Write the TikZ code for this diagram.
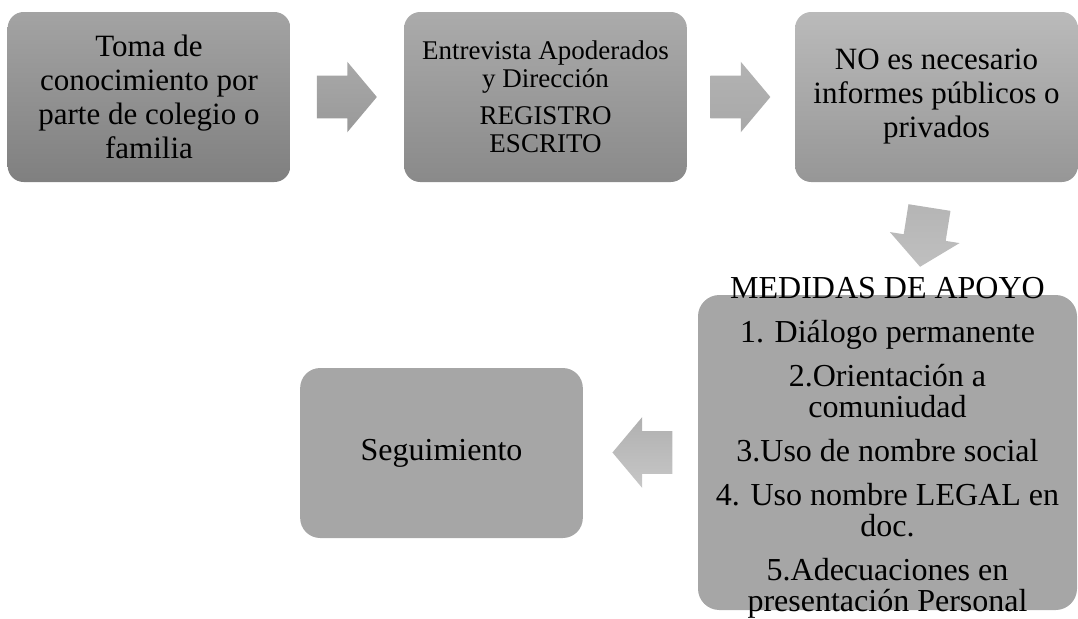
\documentclass[tikz,border=0pt]{standalone}
\usepackage{fontspec}
\setmainfont{Liberation Serif}
\usetikzlibrary{shapes.arrows,calc}

\definecolor{tomaA}{gray}{0.64}
\definecolor{tomaB}{gray}{0.50}
\definecolor{entrevA}{gray}{0.67}
\definecolor{entrevB}{gray}{0.54}
\definecolor{noesA}{gray}{0.73}
\definecolor{noesB}{gray}{0.59}
\definecolor{cajagris}{gray}{0.65}
\definecolor{flechaA}{gray}{0.66}
\definecolor{flechaB}{gray}{0.60}
\definecolor{flechaC}{gray}{0.70}
\definecolor{flechaD}{gray}{0.66}
\definecolor{flechaE}{gray}{0.75}
\definecolor{flechaF}{gray}{0.71}
\definecolor{flechaG}{gray}{0.78}
\definecolor{flechaH}{gray}{0.69}

\begin{document}
\begin{tikzpicture}[x=0.75pt,y=-0.75pt,
    paso/.style={rounded corners=12pt, inner sep=0pt, align=center, minimum width=212pt, minimum height=127.5pt},
    grande/.style={font=\fontsize{23.25}{25.5}\selectfont},
    flecha/.style={single arrow, draw=none, anchor=tail, inner xsep=0pt, inner ysep=15.75pt, minimum height=45pt,
                   single arrow head extend=10.5pt, single arrow tip angle=100}]

    \useasboundingbox (0,0) rectangle (1078,618);

    \node[paso, grande, top color=tomaA, bottom color=tomaB] (toma) at (149,97)
        {Toma de\\conocimiento por\\parte de colegio o\\familia};
    \node[paso, font=\fontsize{20.25}{21}\selectfont, top color=entrevA, bottom color=entrevB] (entrevista) at (545.5,97)
        {Entrevista Apoderados\\y Dirección\\[6.75pt]REGISTRO\\ESCRITO};
    \node[paso, grande, top color=noesA, bottom color=noesB] (noes) at (936.5,97)
        {NO es necesario\\informes públicos o\\privados};

    \node[paso, fill=cajagris, rounded corners=16pt, minimum width=284.25pt, minimum height=236.25pt] (medidas) at (887.5,452.5) {};
    \node[align=center, inner sep=0pt, font=\fontsize{24}{23.25}\selectfont] (medidastxt) at ($(medidas.center)+(0,-5)$)
        {MEDIDAS DE APOYO\\[9.75pt]1. Diálogo permanente\\[9.75pt]2.Orientación a\\comuniudad\\[9.75pt]3.Uso de nombre social\\[9.75pt]4. Uso nombre LEGAL en\\doc.\\[9.75pt]5.Adecuaciones en\\presentación Personal};

    \node[paso, fill=cajagris, rounded corners=15pt, font=\fontsize{24}{26}\selectfont] (seguimiento) at (441.5,453) {Seguimiento};

    \node[flecha, top color=flechaA, bottom color=flechaB] (f1) at ($(toma.east)+(26,0)$) {};
    \node[flecha, top color=flechaC, bottom color=flechaD] (f2) at ($(entrevista.east)+(23,0)$) {};
    \node[flecha, rotate=261, top color=flechaF, bottom color=flechaE] (f3) at ($(noes.south)+(-7,25)$) {};
    \node[flecha, shape border rotate=180, top color=flechaH, bottom color=flechaG] (f4) at ($(medidas.west)+(-25,0)$) {};
\end{tikzpicture}
\end{document}
